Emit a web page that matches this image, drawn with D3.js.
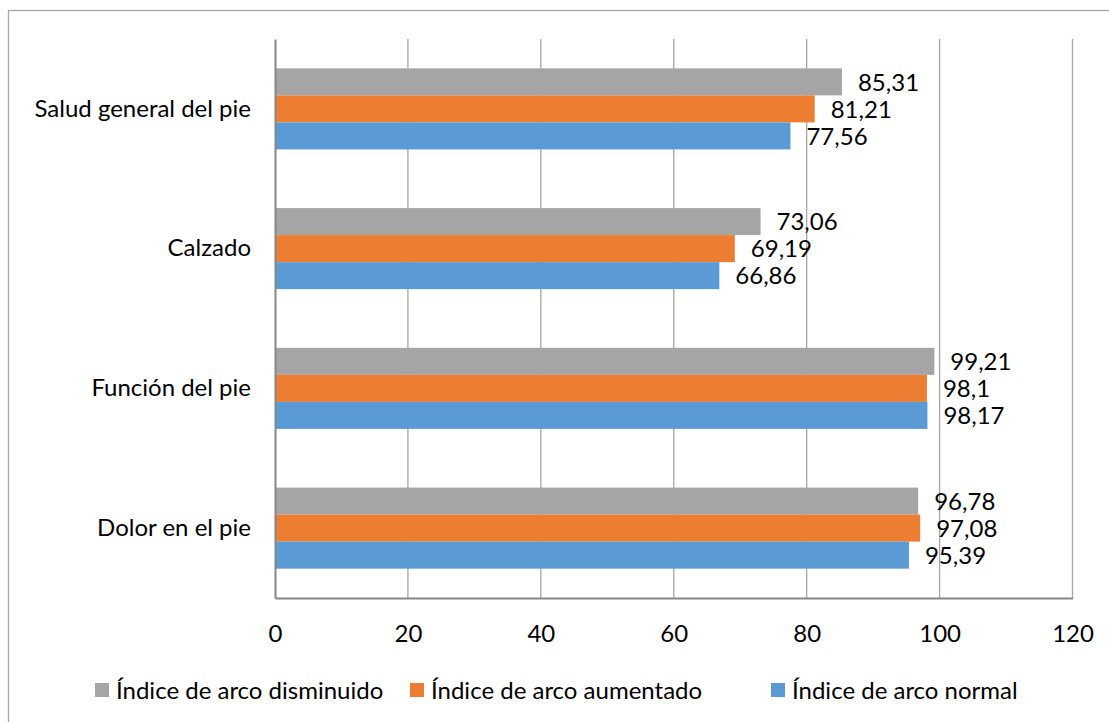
<!DOCTYPE html>
<html><head><meta charset="utf-8">
<script src="https://cdn.jsdelivr.net/npm/d3@7"></script>
<style>
html,body{margin:0;padding:0;background:#fff;}
svg{display:block;font-family:"Lato","Liberation Sans",sans-serif;}
</style></head>
<body><svg id="chart" width="1109" height="722"></svg>
<script>
const categories = ["Salud general del pie", "Calzado", "Función del pie", "Dolor en el pie"];
const seriesNames = ["Índice de arco disminuido", "Índice de arco aumentado", "Índice de arco normal"];
const seriesColors = ["#A5A5A5", "#ED7D31", "#5B9BD5"];
const disminuido = [85.31, 73.06, 99.21, 96.78];
const aumentado = [81.21, 69.19, 98.1, 97.08];
const normal = [77.56, 66.86, 98.17, 95.39];
const xTicks = [0, 20, 40, 60, 80, 100, 120];

const seriesValues = [disminuido, aumentado, normal];
const svg = d3.select("#chart");
const W = 1109, H = 722;
const m = {left: 275, right: 1072.5, top: 39, bottom: 598};

svg.append("rect").attr("x", 8.5).attr("y", 10.5).attr("width", 1120).attr("height", 730)
  .attr("fill", "#fff").attr("stroke", "#A6A6A6").attr("stroke-width", 1.3);

const x = d3.scaleLinear().domain([0, 120]).range([m.left, m.right]);
const y = d3.scaleBand().domain(categories).range([m.top, m.bottom]).paddingInner(0.42).paddingOuter(0.21);
const ySub = d3.scaleBand().domain(seriesNames).range([0, y.bandwidth()]);

// gridlines
svg.append("g").selectAll("line").data(xTicks.slice(1)).join("line")
  .attr("x1", d => x(d)).attr("x2", d => x(d)).attr("y1", m.top).attr("y2", m.bottom)
  .attr("stroke", "#A6A6A6").attr("stroke-width", 1.3);

const fmt = v => String(v).replace(".", ",");
const groups = svg.append("g").selectAll("g").data(categories).join("g")
  .attr("transform", d => `translate(0,${y(d)})`);
seriesNames.forEach((s, si) => {
  groups.append("rect")
    .attr("x", x(0))
    .attr("y", ySub(s))
    .attr("width", (d, i) => x(seriesValues[si][i]) - x(0))
    .attr("height", ySub.bandwidth())
    .attr("fill", seriesColors[si]);
  groups.append("text")
    .attr("x", (d, i) => x(seriesValues[si][i]) + 16)
    .attr("y", ySub(s) + ySub.bandwidth() / 2)
    .attr("dy", "0.36em")
    .attr("font-size", 24)
    .attr("fill", "#000")
    .text((d, i) => fmt(seriesValues[si][i]));
});

// axes
const xAxis = d3.axisBottom(x).tickValues(xTicks).tickSize(0).tickPadding(0);
const gx = svg.append("g").attr("transform", `translate(0,${m.bottom})`).call(xAxis);
gx.select(".domain").attr("stroke", "#868686").attr("stroke-width", 2);
gx.selectAll("text").attr("font-size", 24).attr("fill", "#000").attr("font-family", "Lato").attr("dy", 0).attr("y", 44);

const yAxis = d3.axisLeft(y).tickSize(0).tickPadding(24);
const gy = svg.append("g").attr("transform", `translate(${m.left},0)`).call(yAxis);
gy.select(".domain").attr("stroke", "#868686").attr("stroke-width", 2);
gy.selectAll("text").attr("font-size", 24).attr("fill", "#000").attr("font-family", "Lato");

// legend
const legendX = [95, 410, 771];
const lg = svg.append("g").selectAll("g").data(seriesNames).join("g")
  .attr("transform", (d, i) => `translate(${legendX[i]},683)`);
lg.append("rect").attr("width", 14).attr("height", 14).attr("fill", (d, i) => seriesColors[i]);
lg.append("text").attr("x", 21).attr("y", 7).attr("dy", "0.36em").attr("font-size", 24).attr("fill", "#000").text(d => d);
</script></body></html>
